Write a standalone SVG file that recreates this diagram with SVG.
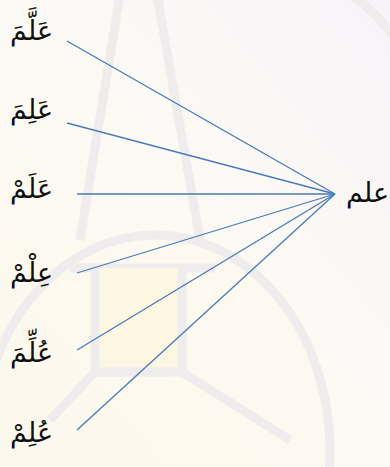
<svg xmlns="http://www.w3.org/2000/svg" width="390" height="467" viewBox="0 0 390 467">
<defs>
<style>
.lbl{font-family:"DejaVu Sans","Noto Sans",sans-serif;font-size:27px;fill:#111;}
.con{stroke:#4a7ab8;stroke-width:1.3;fill:none;}
.wm{fill:none;stroke:#eeeced;stroke-width:9;}
</style>
<linearGradient id="bg" x1="0" y1="1" x2="1" y2="0">
<stop offset="0" stop-color="#fdf8ea"/>
<stop offset="0.5" stop-color="#fcfaf5"/>
<stop offset="1" stop-color="#f8f3f8"/>
</linearGradient>
</defs>
<g id="watermark">
<rect width="390" height="467" fill="url(#bg)"/>
<ellipse cx="155" cy="450" rx="175" ry="215" fill="#fdf9ee" opacity="0.6"/>
<ellipse cx="155" cy="450" rx="175" ry="215" class="wm"/>
<path d="M120,-5 L80,240 M157,-5 L200,240" class="wm"/>
<path d="M70,268 L215,268" class="wm"/>
<path d="M95,268 L95,372 L182,372 L182,268" fill="#fdf6e2" stroke="#eeeced" stroke-width="9"/>
<path d="M95,372 L50,420 M182,372 L290,440" class="wm"/>
<path d="M350,-5 Q378,12 395,40" class="wm"/>
</g>
<g id="connectors">
<line class="con" x1="67" y1="41" x2="335" y2="194"/>
<line class="con" x1="67" y1="123" x2="335" y2="194"/>
<line class="con" x1="77" y1="194" x2="335" y2="194"/>
<line class="con" x1="77" y1="273" x2="335" y2="194"/>
<line class="con" x1="77" y1="350" x2="335" y2="194"/>
<line class="con" x1="77" y1="430" x2="335" y2="194"/>
</g>
<g id="n1"><text class="lbl" x="53" y="40" text-anchor="end">عَلَّمَ</text></g>
<g id="n2"><text class="lbl" x="53" y="119" text-anchor="end">عَلِمَ</text></g>
<g id="n3"><text class="lbl" x="53" y="198" text-anchor="end">عَلَمْ</text></g>
<g id="n4"><text class="lbl" x="53" y="282" text-anchor="end">عِلْمْ</text></g>
<g id="n5"><text class="lbl" x="53" y="362" text-anchor="end">عُلِّمَ</text></g>
<g id="n6"><text class="lbl" x="53" y="442" text-anchor="end">عُلِمْ</text></g>
<g id="center"><text class="lbl" x="389" y="202" text-anchor="end">علم</text></g>
</svg>
